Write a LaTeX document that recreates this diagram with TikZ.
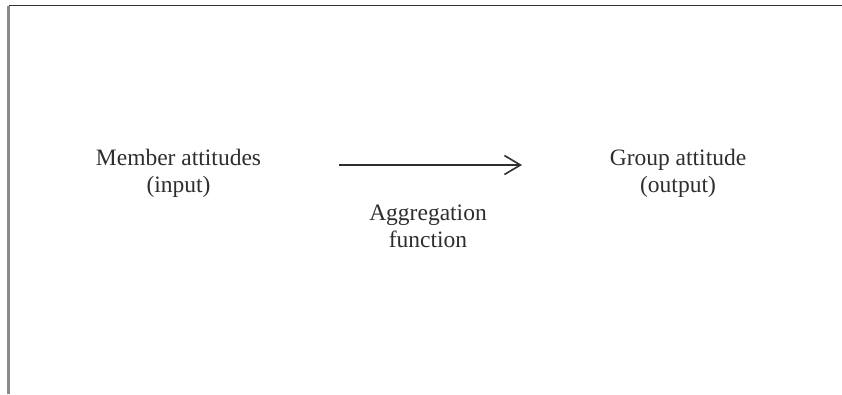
\documentclass[tikz,border=0pt]{standalone}
\usepackage{fontspec}
\setmainfont{Liberation Serif}
\usetikzlibrary{arrows.meta}
\definecolor{ink}{HTML}{2E2E2E}
\definecolor{frametop}{HTML}{333333}
\definecolor{frameleft}{HTML}{8A8A8A}
\tikzset{
  lbl/.style={align=center, inner sep=0pt, text=ink, font=\fontsize{23.5}{27}\selectfont},
  flow/.style={draw=ink, line width=1.6pt, -{Straight Barb[length=16pt,width=19pt,line width=1.6pt]}}
}
\begin{document}
\begin{tikzpicture}[x=1pt,y=-1pt]
\useasboundingbox (0,0) rectangle (842,394);
\coordinate (ftl) at (8.5,5.5);
\coordinate (ftr) at (842,5.5);
\coordinate (fbl) at (8.5,394);
\draw[frametop, line width=1.8pt] (ftl) -- (ftr);
\draw[frameleft, line width=2.2pt] (ftl) -- (fbl);
\node[lbl] (member) at (178.5,173) {Member attitudes\\(input)};
\node[lbl] (group) at (678,173) {Group attitude\\(output)};
\node[lbl] (agg) at (428,226) {Aggregation\\function};
\coordinate (astart) at (339,165);
\coordinate (aend) at (522,165);
\draw[flow] (astart) -- (aend);
\end{tikzpicture}
\end{document}
